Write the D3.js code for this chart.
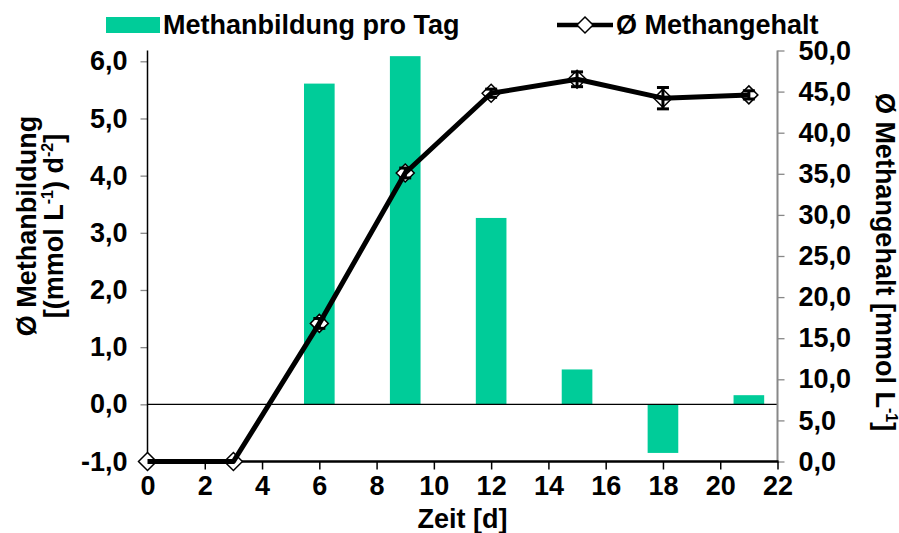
<!DOCTYPE html>
<html>
<head>
<meta charset="utf-8">
<script src="https://cdn.jsdelivr.net/npm/d3@7"></script>
<style>
  html, body { margin: 0; padding: 0; background: #fff; }
  svg text { font-family: "Liberation Sans", Arial, sans-serif; font-weight: bold; fill: #000; }
</style>
</head>
<body>
<svg id="chart" width="899" height="533"></svg>
<script>
// ---- data ----
const days = [0, 3, 6, 9, 12, 15, 18, 21];
const methaneContent = [0, 0, 16.8, 35.1, 44.8, 46.5, 44.2, 44.6];
const methaneContentErr = [0, 0, 0.6, 0.6, 0.5, 0.9, 1.3, 0.5];
const barDays = [6, 9, 12, 15, 18, 21];
const methaneRate = [5.61, 6.09, 3.26, 0.61, -0.85, 0.16];
const xTicks = [0, 2, 4, 6, 8, 10, 12, 14, 16, 18, 20, 22];
const leftTicks = [-1, 0, 1, 2, 3, 4, 5, 6];
const rightTicks = [0, 5, 10, 15, 20, 25, 30, 35, 40, 45, 50];
const seriesNames = ["Methanbildung pro Tag", "Ø Methangehalt"];

// ---- layout ----
const plot = { left: 147.5, right: 777.5, top: 50.5, bottom: 461.5 };
const green = "#00CC99";
const fs = 27;

const svg = d3.select("#chart");
const x = d3.scaleLinear().domain([0, 22]).range([plot.left, plot.right]);
const yL = d3.scaleLinear().domain([-1, 6]).range([plot.bottom, 61.3]);
const yR = d3.scaleLinear().domain([0, 50]).range([plot.bottom, plot.top]);
const fmt = v => d3.format(".1f")(v).replace(".", ",").replace("\u2212", "-");

// bars
const barW = x(1.07) - x(0);
svg.append("g").selectAll("rect").data(barDays.map((d, i) => ({ d, v: methaneRate[i] })))
  .join("rect")
  .attr("x", p => x(p.d) - barW / 2)
  .attr("width", barW)
  .attr("y", p => Math.min(yL(p.v), yL(0)))
  .attr("height", p => Math.abs(yL(p.v) - yL(0)))
  .attr("fill", green);

// zero line
svg.append("line")
  .attr("x1", plot.left).attr("x2", plot.right)
  .attr("y1", yL(0)).attr("y2", yL(0))
  .attr("stroke", "#000").attr("stroke-width", 1.3);

// left axis
const gL = svg.append("g").attr("transform", `translate(${plot.left},0)`)
  .call(d3.axisLeft(yL).tickValues(leftTicks).tickFormat(fmt).tickSize(7).tickPadding(13));
gL.select(".domain").remove();
gL.selectAll(".tick line").attr("stroke", "#888").attr("stroke-width", 1.3);
gL.selectAll(".tick text").attr("font-size", fs).attr("font-family", null);
svg.append("line").attr("x1", plot.left).attr("x2", plot.left)
  .attr("y1", plot.top).attr("y2", plot.bottom).attr("stroke", "#000").attr("stroke-width", 1.5);

// right axis
const gR = svg.append("g").attr("transform", `translate(${plot.right},0)`)
  .call(d3.axisRight(yR).tickValues(rightTicks).tickFormat(fmt).tickSize(7).tickPadding(14));
gR.select(".domain").remove();
gR.selectAll(".tick line").attr("stroke", "#888").attr("stroke-width", 1.3);
gR.selectAll(".tick text").attr("font-size", fs).attr("font-family", null);
svg.append("line").attr("x1", plot.right).attr("x2", plot.right)
  .attr("y1", plot.top).attr("y2", plot.bottom).attr("stroke", "#888").attr("stroke-width", 2);

// bottom axis
const gX = svg.append("g").attr("transform", `translate(0,${plot.bottom})`)
  .call(d3.axisBottom(x).tickValues(xTicks).tickFormat(d3.format("d")).tickSize(8).tickPadding(6));
gX.select(".domain").remove();
gX.selectAll(".tick line").attr("stroke", "#000").attr("stroke-width", 1.5);
gX.selectAll(".tick text").attr("font-size", fs).attr("font-family", null);
svg.append("line").attr("x1", plot.left).attr("x2", plot.right + 1)
  .attr("y1", plot.bottom).attr("y2", plot.bottom).attr("stroke", "#000").attr("stroke-width", 2.5);

// line series
const pts = days.map((d, i) => ({ d, v: methaneContent[i], e: methaneContentErr[i] }));
const diamond = r => `M0,${-r}L${r},0L0,${r}L${-r},0Z`;
svg.append("g").selectAll("path").data(pts).join("path")
  .attr("d", diamond(9))
  .attr("transform", p => `translate(${x(p.d)},${yR(p.v)})`)
  .attr("fill", "#fff").attr("stroke", "#000").attr("stroke-width", 1.5);
svg.append("path").datum(pts)
  .attr("d", d3.line().x(p => x(p.d)).y(p => yR(p.v)))
  .attr("fill", "none").attr("stroke", "#000").attr("stroke-width", 5).attr("stroke-linejoin", "round");
// error bars
const eg = svg.append("g").attr("stroke", "#000").attr("stroke-width", 3);
pts.filter(p => p.e > 0).forEach(p => {
  const cx = x(p.d), y1 = yR(p.v + p.e), y2 = yR(p.v - p.e);
  eg.append("line").attr("x1", cx).attr("x2", cx).attr("y1", y1).attr("y2", y2);
  eg.append("line").attr("x1", cx - 6).attr("x2", cx + 6).attr("y1", y1).attr("y2", y1);
  eg.append("line").attr("x1", cx - 6).attr("x2", cx + 6).attr("y1", y2).attr("y2", y2);
});

// axis titles
svg.append("text").attr("x", x(11)).attr("y", 528).attr("text-anchor", "middle")
  .attr("font-size", fs).text("Zeit [d]");

const lt = svg.append("g").attr("transform", "translate(0,226) rotate(-90)");
lt.append("text").attr("x", 0).attr("y", 36).attr("text-anchor", "middle").attr("font-size", fs)
  .text("Ø Methanbildung");
const lt2 = lt.append("text").attr("x", 0).attr("y", 63).attr("text-anchor", "middle").attr("font-size", fs);
lt2.append("tspan").text("[(mmol L");
lt2.append("tspan").attr("font-size", 16).attr("dy", -10).text("-1");
lt2.append("tspan").attr("dy", 10).text(") d");
lt2.append("tspan").attr("font-size", 16).attr("dy", -10).text("-2");
lt2.append("tspan").attr("dy", 10).text("]");

const rt = svg.append("text").attr("transform", "translate(876,262) rotate(90)")
  .attr("text-anchor", "middle").attr("font-size", fs);
rt.append("tspan").text("Ø Methangehalt [mmol L");
rt.append("tspan").attr("font-size", 16).attr("dy", -10).text("-1");
rt.append("tspan").attr("dy", 10).text("]");

// legend
svg.append("rect").attr("x", 106).attr("y", 17).attr("width", 54).attr("height", 16).attr("fill", green);
svg.append("text").attr("x", 163).attr("y", 34).attr("font-size", fs).text(seriesNames[0]);
svg.append("line").attr("x1", 557).attr("x2", 613).attr("y1", 25).attr("y2", 25)
  .attr("stroke", "#000").attr("stroke-width", 4.5);
svg.append("path").attr("d", diamond(8)).attr("transform", "translate(585,25)")
  .attr("fill", "#fff").attr("stroke", "#000").attr("stroke-width", 1.5);
svg.append("text").attr("x", 616).attr("y", 34).attr("font-size", fs).text(seriesNames[1]);
</script>
</body>
</html>
